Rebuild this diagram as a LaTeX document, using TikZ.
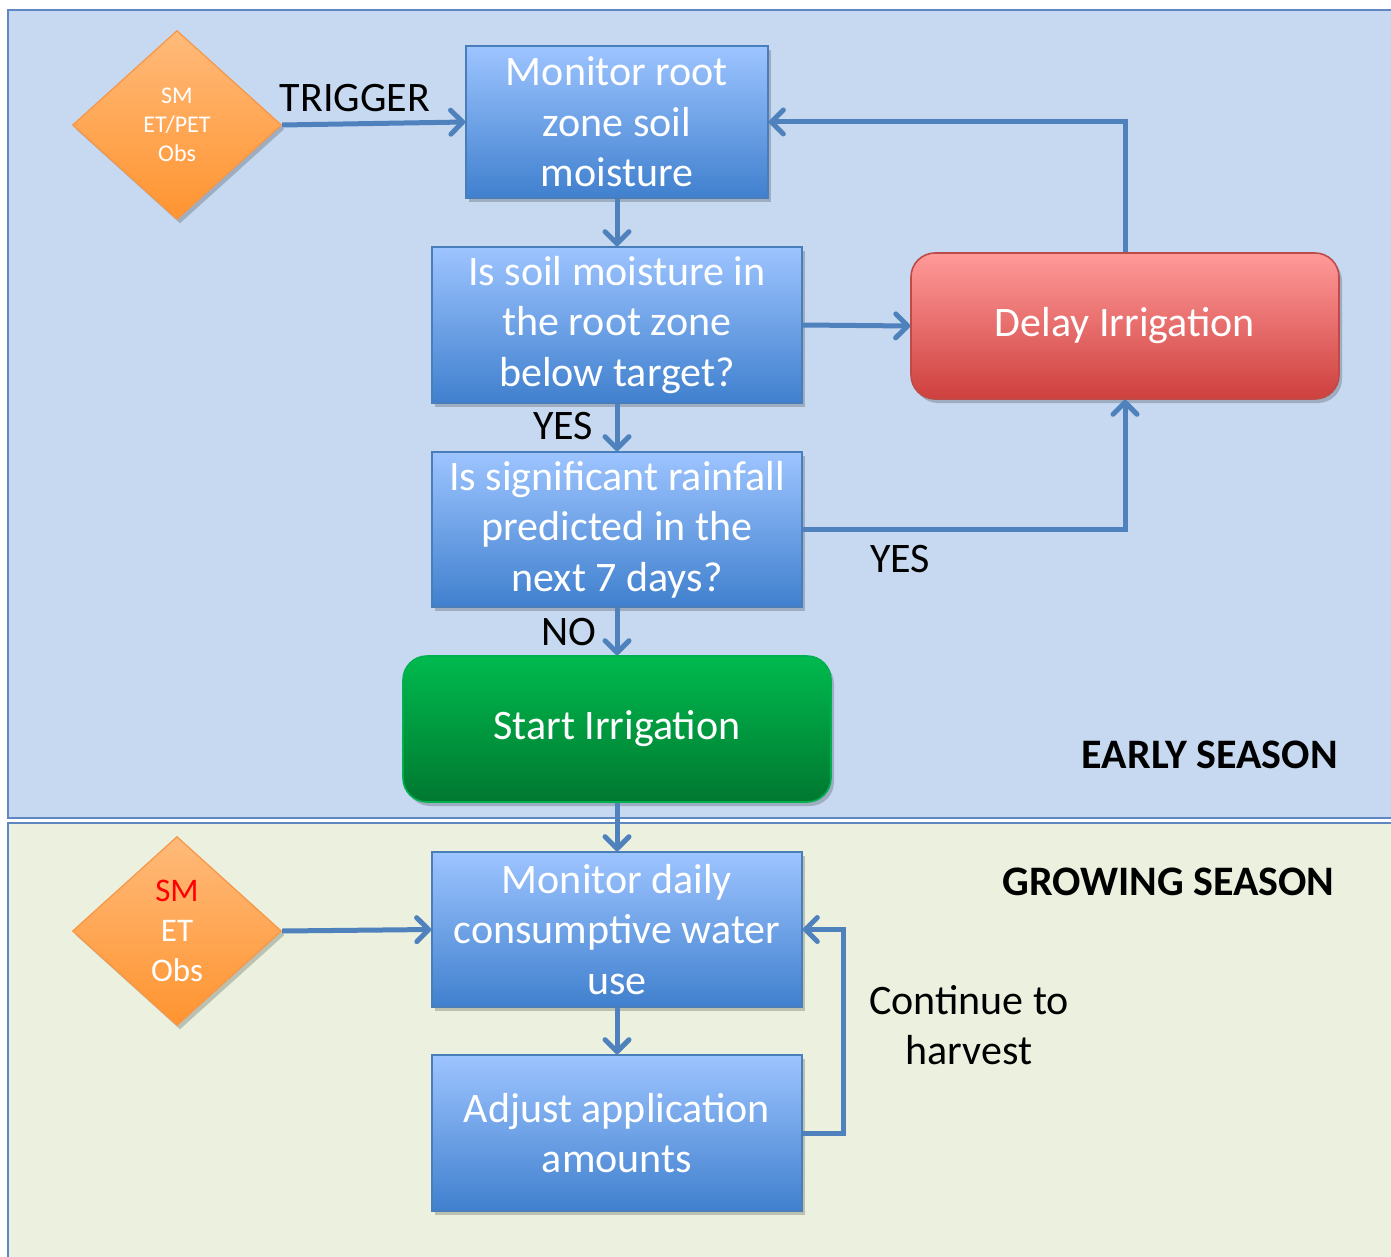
\documentclass[tikz,border=0pt]{standalone}
\usepackage{fontspec}
\setmainfont{Carlito}
\usetikzlibrary{shapes.geometric,arrows.meta,shadows}
\definecolor{bluetop}{RGB}{157,196,255}
\definecolor{bluebot}{RGB}{64,128,206}
\definecolor{blueborder}{RGB}{74,126,187}
\definecolor{arrowc}{RGB}{79,129,189}
\definecolor{redtop}{RGB}{255,154,153}
\definecolor{redbot}{RGB}{206,64,62}
\definecolor{redborder}{RGB}{190,75,72}
\definecolor{greentop}{RGB}{0,186,78}
\definecolor{greenbot}{RGB}{0,120,48}
\definecolor{greenborder}{RGB}{0,176,80}
\definecolor{orangetop}{RGB}{255,186,122}
\definecolor{orangebot}{RGB}{255,148,48}
\definecolor{orangeborder}{RGB}{247,150,70}
\definecolor{earlyfill}{RGB}{198,217,241}
\definecolor{growfill}{RGB}{235,241,222}
\definecolor{panelborder}{RGB}{95,135,195}
\tikzset{
  shad/.style={drop shadow={shadow xshift=1.5pt,shadow yshift=-2pt,opacity=0.2,fill=black}},
  bluebox/.style={shad,draw=blueborder,line width=0.8pt,top color=bluetop,bottom color=bluebot,
    text=white,font=\fontsize{21}{25.2}\selectfont,align=center,inner sep=0pt},
  redbox/.style={shad,draw=redborder,line width=0.8pt,top color=redtop,bottom color=redbot,
    rounded corners=12pt,text=white,font=\fontsize{21}{25.2}\selectfont,align=center,inner sep=0pt,
    minimum width=214pt,minimum height=73pt},
  greenbox/.style={shad,draw=greenborder,line width=0.8pt,top color=greentop,bottom color=greenbot,
    rounded corners=12pt,text=white,font=\fontsize{21}{25.2}\selectfont,align=center,inner sep=0pt,
    minimum width=214pt,minimum height=73pt},
  obsdiamond/.style={shad,diamond,draw=orangeborder,line width=0.6pt,top color=orangetop,bottom color=orangebot,
    inner sep=0pt,minimum width=104.5pt,minimum height=94.5pt},
  conn/.style={draw=arrowc,line width=2.5pt,-{Straight Barb[length=6pt,width=12pt,line cap=round,line join=round]}},
  lbl/.style={text=black,font=\fontsize{21}{25.2}\selectfont,align=center,inner sep=0pt},
  seasonlbl/.style={text=black,font=\fontsize{21}{25.2}\selectfont\bfseries,inner sep=0pt}
}
\begin{document}
\begin{tikzpicture}[x=0.5pt,y=-0.5pt]
\useasboundingbox (0,0) rectangle (1391,1257);
% panels
\draw[panelborder,line width=1pt,fill=earlyfill] (8,10) rectangle (1400,818);
\draw[panelborder,line width=1pt,fill=growfill] (8,823) rectangle (1400,1265);

% nodes
\node[obsdiamond] (d1) at (177,125) {};
\node[text=white,font=\fontsize{12}{14.5}\selectfont,align=center,inner sep=0pt] (d1t) at (177,125) {SM\\ET/PET\\Obs};
\node[obsdiamond] (d2) at (177,931) {};
\node[text=white,font=\fontsize{16.5}{20}\selectfont,align=center,inner sep=0pt] (d2t) at (177,931) {\textcolor{red}{SM}\\ET\\Obs};

\node[bluebox,minimum width=151pt,minimum height=76pt] (mon) at (617,122) {Monitor root\\zone soil\\moisture};
\node[bluebox,minimum width=185pt,minimum height=78pt] (q1) at (617,325) {Is soil moisture in\\the root zone\\below target?};
\node[bluebox,minimum width=185pt,minimum height=77.5pt] (q2) at (617,529.5) {Is significant rainfall\\predicted in the\\next 7 days?};
\node[greenbox] (start) at (617,729) {Start Irrigation};
\node[redbox] (delay) at (1125,326) {Delay Irrigation};
\node[bluebox,minimum width=185pt,minimum height=77.5pt] (md) at (617,929.5) {Monitor daily\\consumptive water\\use};
\node[bluebox,minimum width=185pt,minimum height=78pt] (adj) at (617,1133) {Adjust application\\amounts};

% labels
\node[lbl] (trig) at (355,98) {TRIGGER};
\node[lbl] (yes1) at (563,426) {YES};
\node[lbl] (yes2) at (900,559) {YES};
\node[lbl] (no) at (569,632) {NO};
\node[lbl] (cont) at (969,1025) {Continue to\\harvest};
\node[seasonlbl,anchor=east] (early) at (1338,755) {EARLY SEASON};
\node[seasonlbl,anchor=east] (grow) at (1335,882) {GROWING SEASON};

% connectors
\draw[conn] (d1.east) -- (mon.west);
\draw[conn] (mon.south) -- (q1.north);
\draw[conn] (q1.east) -- (delay.west);
\draw[conn] (delay.north) |- (mon.east);
\draw[conn] (q1.south) -- (q2.north);
\draw[conn] (q2.east) -| (delay.south);
\draw[conn] (q2.south) -- (start.north);
\draw[conn] (start.south) -- (md.north);
\draw[conn] (d2.east) -- (md.west);
\draw[conn] (md.south) -- (adj.north);
\coordinate (loop) at (843,1133);
\draw[conn] (adj.east) -- (loop) |- (md.east);
\end{tikzpicture}
\end{document}
